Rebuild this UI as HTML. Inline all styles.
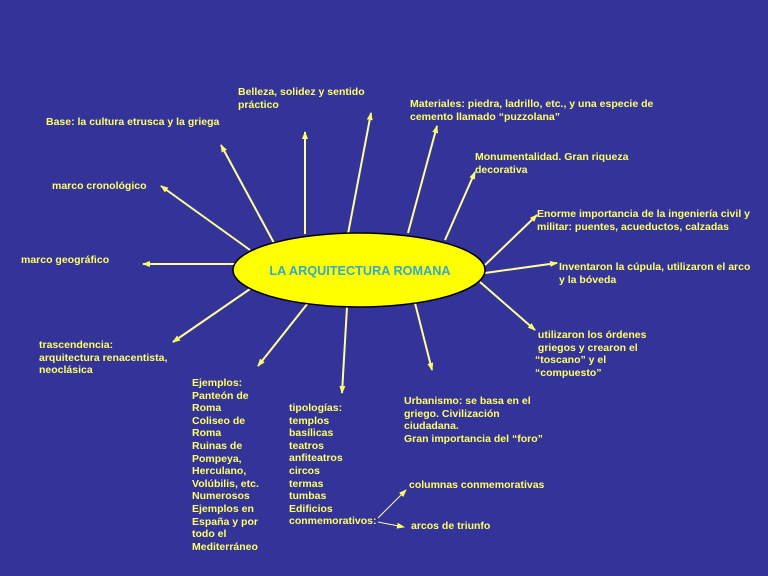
<!DOCTYPE html>
<html><head><meta charset="utf-8"><style>
body{margin:0;width:768px;height:576px;background:#333399;overflow:hidden;position:relative;font-family:"Liberation Sans",Arial,sans-serif}
.t{position:absolute;color:#ffff66;font-weight:bold;font-size:10.5px;line-height:12.6px;white-space:nowrap}
svg{position:absolute;left:0;top:0}
</style></head><body>
<svg width="768" height="576">
<defs><marker id="a" markerWidth="8" markerHeight="8" refX="7" refY="4" orient="auto" markerUnits="userSpaceOnUse"><path d="M0,1 L8,4 L0,7 Z" fill="#ffff66"/></marker></defs>
<g stroke="#ffff99" stroke-width="2" marker-end="url(#a)">
<line x1="274" y1="243" x2="221" y2="145"/>
<line x1="250" y1="250" x2="161" y2="186"/>
<line x1="235" y1="264" x2="143" y2="264"/>
<line x1="250" y1="289" x2="173" y2="342"/>
<line x1="308" y1="303" x2="258" y2="366"/>
<line x1="347" y1="307" x2="342" y2="393"/>
<line x1="415" y1="303" x2="432" y2="370"/>
<line x1="480" y1="282" x2="535" y2="330"/>
<line x1="485" y1="273" x2="557" y2="263"/>
<line x1="485" y1="265" x2="537" y2="215"/>
<line x1="445" y1="240" x2="475" y2="172"/>
<line x1="408" y1="233" x2="437" y2="126"/>
<line x1="348" y1="234" x2="371" y2="113"/>
<line x1="305" y1="234" x2="305" y2="132"/>
</g>
<g stroke="#ffff99" stroke-width="1" marker-end="url(#a)">
<line x1="378" y1="518" x2="406" y2="490"/>
<line x1="378" y1="522" x2="404" y2="527"/>
</g>
<ellipse cx="359" cy="270" rx="126" ry="37" fill="#ffff00" stroke="#000" stroke-width="1.5"/>
<text x="360" y="275" text-anchor="middle" font-family="Liberation Sans,Arial,sans-serif" font-weight="bold" font-size="12.7" fill="#33aacc">LA ARQUITECTURA ROMANA</text>
</svg>
<div class="t" style="left:238px;top:86px">Belleza, solidez y sentido<br>práctico</div>
<div class="t" style="left:46px;top:116px">Base: la cultura etrusca y la griega</div>
<div class="t" style="left:410px;top:98px">Materiales: piedra, ladrillo, etc., y una especie de<br>cemento llamado “puzzolana”</div>
<div class="t" style="left:475px;top:151px">Monumentalidad. Gran riqueza<br>decorativa</div>
<div class="t" style="left:52px;top:180px">marco cronológico</div>
<div class="t" style="left:537px;top:208px">Enorme importancia de la ingeniería civil y<br>militar: puentes, acueductos, calzadas</div>
<div class="t" style="left:21px;top:254px">marco geográfico</div>
<div class="t" style="left:559px;top:261px">Inventaron la cúpula, utilizaron el arco<br>y la bóveda</div>
<div class="t" style="left:39px;top:339px">trascendencia:<br>arquitectura renacentista,<br>neoclásica</div>
<div class="t" style="left:535px;top:329px">&nbsp;utilizaron los órdenes<br>&nbsp;griegos y crearon el<br>“toscano” y el<br>“compuesto”</div>
<div class="t" style="left:192px;top:377px">Ejemplos:<br>Panteón de<br>Roma<br>Coliseo de<br>Roma<br>Ruinas de<br>Pompeya,<br>Herculano,<br>Volúbilis, etc.<br>Numerosos<br>Ejemplos en<br>España y por<br>todo el<br>Mediterráneo</div>
<div class="t" style="left:289px;top:402px">tipologías:<br>templos<br>basílicas<br>teatros<br>anfiteatros<br>circos<br>termas<br>tumbas<br>Edificios<br>conmemorativos:</div>
<div class="t" style="left:404px;top:395px">Urbanismo: se basa en el<br>griego. Civilización<br>ciudadana.<br>Gran importancia del “foro”</div>
<div class="t" style="left:409px;top:479px">columnas conmemorativas</div>
<div class="t" style="left:411px;top:520px">arcos de triunfo</div>
</body></html>
